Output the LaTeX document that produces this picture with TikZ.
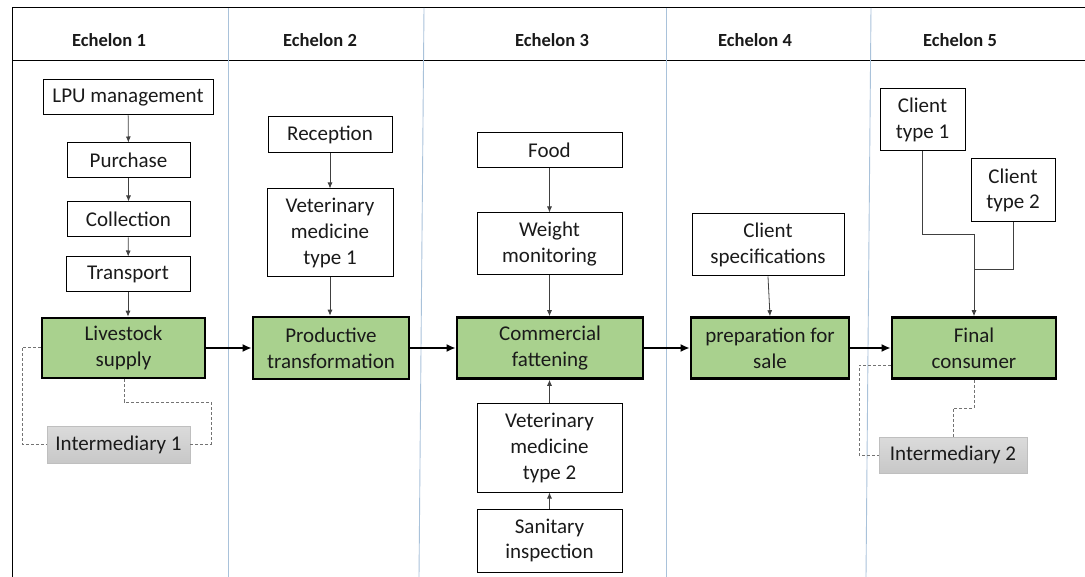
\documentclass[tikz,border=0pt]{standalone}
\usepackage{fontspec}
\setmainfont{Carlito}
\usetikzlibrary{arrows.meta}
\definecolor{greenbox}{HTML}{A9D18E}
\definecolor{graybox}{HTML}{D2D2D2}
\definecolor{laneline}{HTML}{A9C2DA}
\definecolor{txt}{HTML}{1A1A1A}
\tikzset{
  base/.style={draw=black, line width=1pt, inner sep=0pt, align=center, text=txt,
    font=\fontsize{21}{25.8}\selectfont},
  wbox/.style={base, fill=white},
  gbox/.style={base, fill=greenbox, line width=2.6pt},
  ibox/.style={base, draw=black!25, line width=0.4pt, top color=graybox!80!white, bottom color=graybox!95!black},
  head/.style={font=\fontsize{18.5}{22}\selectfont\bfseries, text=txt},
  thinarrow/.style={draw=black!75, line width=0.8pt, -{Latex[length=6pt,width=5pt]}},
  thinline/.style={draw=black!75, line width=0.8pt},
  thickarrow/.style={draw=black, line width=2.4pt, -{Latex[length=9pt,width=8pt]}},
  dashline/.style={draw=black!55, line width=0.8pt, dash pattern=on 3pt off 2pt},
  lane/.style={draw=laneline, line width=0.9pt}
}
\begin{document}
\begin{tikzpicture}[x=1pt, y=-1pt]
\useasboundingbox (0,0) rectangle (1085,577);
% frame and lanes
\draw[line width=1pt] (12,577) -- (12,8) -- (1090,8);
\draw[line width=1pt] (12,61) -- (1090,61);
\draw[lane] (228,8) -- (228,577);
\draw[lane] (424,8) -- (419,577);
\draw[lane] (666,8) -- (666,577);
\draw[lane] (871,8) -- (866,577);
% headers
\node[head] (h1) at (109,40) {Echelon 1};
\node[head] (h2) at (320,40) {Echelon 2};
\node[head] (h3) at (552,40) {Echelon 3};
\node[head] (h4) at (755,40) {Echelon 4};
\node[head] (h5) at (960,40) {Echelon 5};
% echelon 1
\node[wbox, minimum width=170pt, minimum height=35pt] (lpu) at (128,97.5) {LPU management};
\node[wbox, minimum width=123pt, minimum height=35pt] (pur) at (128.5,160.5) {Purchase};
\node[wbox, minimum width=123pt, minimum height=35pt] (col) at (128.5,219.5) {Collection};
\node[wbox, minimum width=124pt, minimum height=35pt] (tra) at (128,274.5) {Transport};
\node[gbox, minimum width=163pt, minimum height=60pt] (liv) at (123.5,348) {Livestock\\supply};
\node[ibox, minimum width=143pt, minimum height=37pt] (int1) at (118.5,444.5) {Intermediary 1};
% echelon 2
\node[wbox, minimum width=124pt, minimum height=36pt] (rec) at (330,135) {Reception};
\node[wbox, minimum width=126pt, minimum height=88pt] (vet1) at (330,233) {Veterinary\\medicine\\type 1};
\node[gbox, minimum width=156pt, minimum height=62pt] (pro) at (331,348) {Productive\\transformation};
% echelon 3
\node[wbox, minimum width=145pt, minimum height=35pt] (food) at (549.5,150.5) {Food};
\node[wbox, minimum width=145pt, minimum height=62pt] (wei) at (549.5,244) {Weight\\monitoring};
\node[gbox, minimum width=186pt, minimum height=61pt] (com) at (550,348) {Commercial\\fattening};
\node[wbox, minimum width=145pt, minimum height=88pt] (vet2) at (549.5,448) {Veterinary\\medicine\\type 2};
\node[wbox, minimum width=145pt, minimum height=63pt] (san) at (549.5,540.5) {Sanitary\\inspection};
% echelon 4
\node[wbox, minimum width=152pt, minimum height=62pt] (spec) at (768,245) {Client\\specifications};
\node[gbox, minimum width=158pt, minimum height=61pt] (prep) at (770,348) {preparation for\\sale};
% echelon 5
\node[wbox, minimum width=85pt, minimum height=62pt] (ct1) at (922.5,120) {Client\\type 1};
\node[wbox, minimum width=84pt, minimum height=63pt] (ct2) at (1013,190.5) {Client\\type 2};
\node[gbox, minimum width=164pt, minimum height=61pt] (fin) at (974,348) {Final\\consumer};
\node[ibox, minimum width=148pt, minimum height=36pt] (int2) at (953,455) {Intermediary 2};
% thin connectors
\draw[thinarrow] (lpu) -- (pur);
\draw[thinarrow] (pur) -- (col);
\draw[thinarrow] (col) -- (tra);
\draw[thinarrow] (tra) -- (tra |- liv.north);
\draw[thinarrow] (rec) -- (vet1);
\draw[thinarrow] (vet1) -- (vet1 |- pro.north);
\draw[thinarrow] (food) -- (wei);
\draw[thinarrow] (wei) -- (wei |- com.north);
\draw[thinarrow] (vet2) -- (vet2 |- com.south);
\draw[thinarrow] (san) -- (vet2);
\draw[thinarrow] (spec.south) -- (prep.north);
\coordinate (j1) at (974,234);
\coordinate (j2) at (974,269);
\draw[thinline] (ct1.south) |- (j1);
\draw[thinline] (ct2.south) |- (j2);
\draw[thinarrow] (j1) -- (fin.north);
% thick connectors
\draw[thickarrow] (liv.east) -- (pro.west);
\draw[thickarrow] (pro.east) -- (com.west);
\draw[thickarrow] (com.east) -- (prep.west);
\draw[thickarrow] (prep.east) -- (fin.west);
% dashed connectors
\coordinate (d1) at (22,347);
\coordinate (d2) at (124,402);
\coordinate (d3) at (211,402);
\draw[dashline] (liv.west |- d1) -| (d1 |- int1.west) -- (int1.west);
\draw[dashline] (d2 |- liv.south) -- (d2) -- (d3) |- (int1.east);
\coordinate (e1) at (859,365);
\coordinate (e2) at (974,408);
\coordinate (e3) at (953,408);
\draw[dashline] (fin.west |- e1) -| (e1 |- int2.west) -- (int2.west);
\draw[dashline] (fin.south) -- (e2) -- (e3) -- (int2.north);
\end{tikzpicture}
\end{document}
